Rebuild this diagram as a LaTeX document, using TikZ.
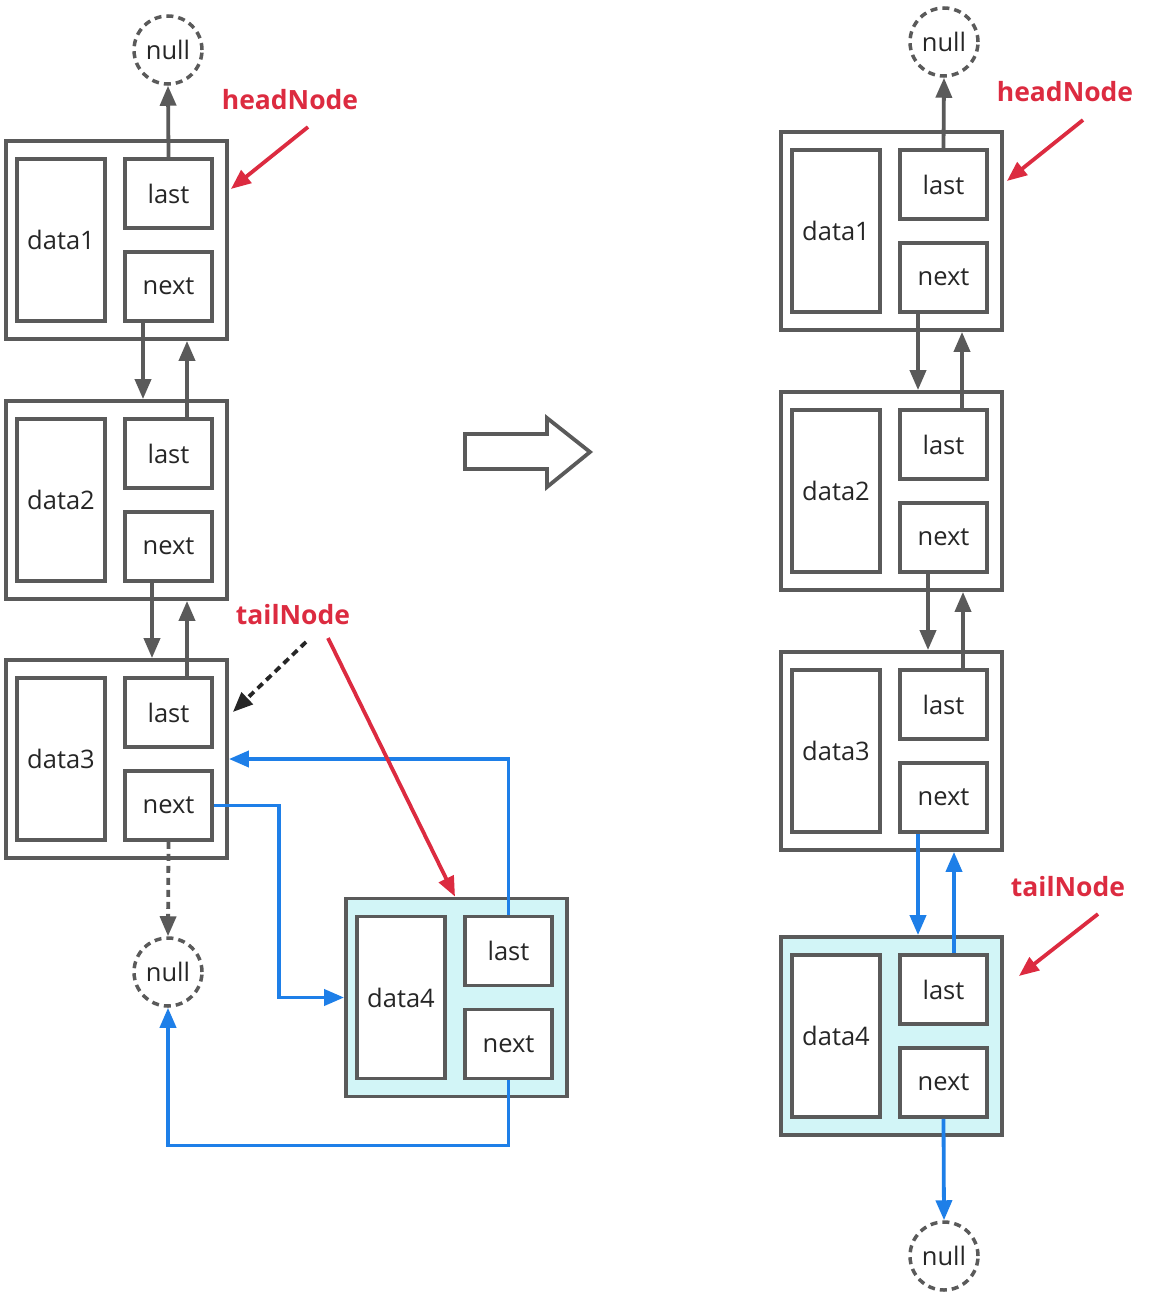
\documentclass[tikz,border=0pt]{standalone}
\usepackage{fontspec}
\setmainfont{Open Sans}
\usetikzlibrary{arrows.meta,calc}
\definecolor{gline}{HTML}{5A5A5A}
\definecolor{txt}{HTML}{262626}
\definecolor{bl}{HTML}{1E7FE8}
\definecolor{rd}{HTML}{DC2B40}
\definecolor{cy}{HTML}{D2F5F7}
\newcommand\listnode[5]{%
  \node[outerbox, fill=#5] (#1) at (#2,#3) {};
  \node[databox] (#1data) at ($(#1.center)+(-55.5,0)$) {#4};
  \node[ptrbox] (#1last) at ($(#1.center)+(52,-46.5)$) {last};
  \node[ptrbox] (#1next) at ($(#1.center)+(52,46.5)$) {next};
}
\begin{document}
\begin{tikzpicture}[x=1pt,y=-1pt,
  box/.style={draw=gline, line width=3.8pt, inner sep=0pt, text=txt, font=\fontsize{25.5}{30}\selectfont},
  outerbox/.style={box, minimum width=221pt, minimum height=198pt},
  databox/.style={box, fill=white, minimum width=88pt, minimum height=162pt},
  ptrbox/.style={box, fill=white, minimum width=87pt, minimum height=69pt},
  nullnode/.style={circle, draw=gline, line width=3.5pt, dash pattern=on 7pt off 5pt, minimum size=68pt, inner sep=0pt, text=txt, font=\fontsize{25.5}{30}\selectfont},
  tip/.style={-{Triangle[length=20pt,width=16pt]}},
  garrow/.style={tip, draw=gline, line width=3.8pt},
  barrow/.style={tip, draw=bl, line width=3.8pt},
  rarrow/.style={tip, draw=rd, line width=3.8pt},
  darrow/.style={tip, draw=txt, line width=3.8pt, dash pattern=on 7pt off 5pt},
  lbl/.style={text=rd, font=\fontsize{26.5}{30}\selectfont\bfseries, inner sep=0pt}
]
\useasboundingbox (0,0) rectangle (1150,1298);

% ---------------- left diagram ----------------
\listnode{a1}{116.5}{240}{data1}{white}
\listnode{a2}{116.5}{500}{data2}{white}
\listnode{a3}{116.5}{759}{data3}{white}
\listnode{a4}{456.5}{997.5}{data4}{cy}
\node[nullnode] (an1) at (168,50) {null};
\node[nullnode] (an2) at (168,972) {null};

\draw[garrow] (a1last.north) -- (an1.south);
\draw[garrow] ([xshift=-25.5pt]a1next.south) -- ([xshift=-25.5pt]a1next.south |- a2.north);
\draw[garrow] ([xshift=18.5pt]a2last.north) -- ([xshift=18.5pt]a2last.north |- a1.south);
\draw[garrow] ([xshift=-16.5pt]a2next.south) -- ([xshift=-16.5pt]a2next.south |- a3.north);
\draw[garrow] ([xshift=18.5pt]a3last.north) -- ([xshift=18.5pt]a3last.north |- a2.south);
\draw[garrow, dash pattern=on 7pt off 5pt] (a3next.south) -- (an2.north);

\draw[barrow, line join=miter] (a3next.east) -| ($(a3next.east)!0.5!(a4.west)$) |- (a4.west);
\draw[barrow, line join=miter] (a4last.north) |- (a3.east);
\draw[barrow, line join=miter] (a4next.south) -- ++(0,65) -| (an2.south);

\node[lbl] (ahead) at (290,100) {headNode};
\coordinate (aheadt) at (308,127);
\draw[rarrow] (aheadt) -- ([xshift=2pt,yshift=51pt]a1.east);
\node[lbl] (atail) at (293,615) {tailNode};
\coordinate (atailr) at (328,638);
\coordinate (ataild) at (306,642);
\draw[rarrow] (atailr) -- ([xshift=-1.5pt]a4.north);
\draw[darrow] (ataild) -- ([xshift=4pt,yshift=47pt]a3.east);

% ---------------- big arrow ----------------
\draw[gline, line width=3.8pt, line join=miter, fill=white]
  (465,434) -- (547,434) -- (547,418) -- (590,452) -- (547,487) -- (547,469) -- (465,469) -- cycle;

% ---------------- right diagram ----------------
\listnode{b1}{891.5}{231}{data1}{white}
\listnode{b2}{891.5}{491}{data2}{white}
\listnode{b3}{891.5}{751}{data3}{white}
\listnode{b4}{891.5}{1036}{data4}{cy}
\node[nullnode] (bn1) at (944,42) {null};
\node[nullnode] (bn2) at (944,1256) {null};

\draw[garrow] (b1last.north) -- (bn1.south);
\draw[garrow] ([xshift=-25.5pt]b1next.south) -- ([xshift=-25.5pt]b1next.south |- b2.north);
\draw[garrow] ([xshift=18.5pt]b2last.north) -- ([xshift=18.5pt]b2last.north |- b1.south);
\draw[garrow] ([xshift=-15.5pt]b2next.south) -- ([xshift=-15.5pt]b2next.south |- b3.north);
\draw[garrow] ([xshift=19.5pt]b3last.north) -- ([xshift=19.5pt]b3last.north |- b2.south);
\draw[barrow] ([xshift=-25.5pt]b3next.south) -- ([xshift=-25.5pt]b3next.south |- b4.north);
\draw[barrow] ([xshift=10.5pt]b4last.north) -- ([xshift=10.5pt]b4last.north |- b3.south);
\draw[barrow] (b4next.south) -- (bn2.north);

\node[lbl] (bhead) at (1065,92) {headNode};
\coordinate (bheadt) at (1083,120);
\draw[rarrow] (bheadt) -- ([xshift=3pt,yshift=50pt]b1.east);
\node[lbl] (btail) at (1068,887) {tailNode};
\coordinate (btailt) at (1098,914);
\draw[rarrow] (btailt) -- ([xshift=15pt,yshift=60pt]b4.east);
\end{tikzpicture}
\end{document}
